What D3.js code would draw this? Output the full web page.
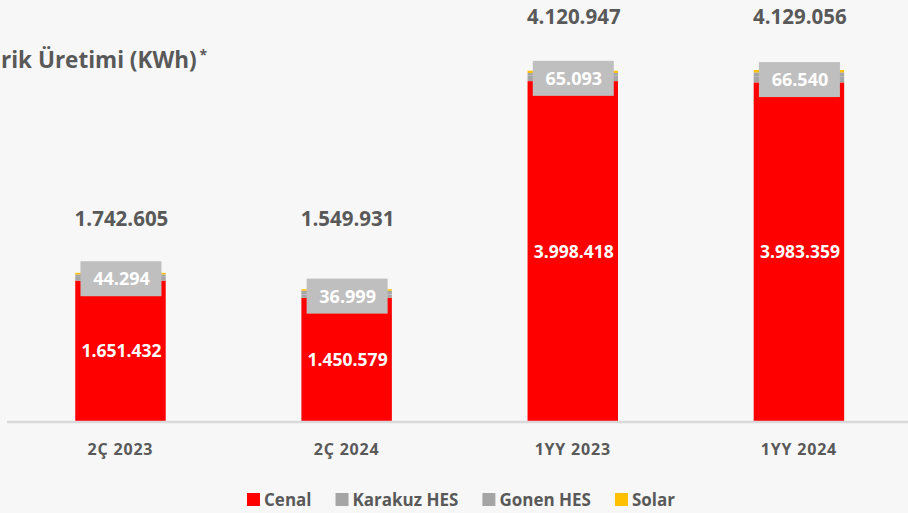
<!DOCTYPE html>
<html>
<head>
<meta charset="utf-8">
<script src="https://cdn.jsdelivr.net/npm/d3@7"></script>
<style>
  html, body { margin: 0; padding: 0; background: #f7f7f7; }
  svg { display: block; font-family: "Open Sans", "DejaVu Sans", sans-serif; }
</style>
</head>
<body>
<svg id="chart" width="908" height="513"></svg>
<script>
// ---- data ----
const categories = ["2Ç 2023", "2Ç 2024", "1YY 2023", "1YY 2024"];
const periodGroup = ["2Ç", "2Ç", "1YY", "1YY"];
const seriesNames = ["Cenal", "Karakuz HES", "Gonen HES", "Solar"];
const cenal   = [1651432, 1450579, 3998418, 3983359];
const karakuz = [44294, 36999, 65093, 66540];
const gonen   = [28879, 45000, 30436, 51157];   // estimated (unlabeled)
const solar   = [18000, 17353, 27000, 28000];   // estimated (unlabeled)
const colors  = ["#ff0000", "#a5a5a5", "#a5a5a5", "#ffc000"];
const titleText = "rik Üretimi (KWh)";

const table = categories.map((c, i) => ({
  cat: c, "Cenal": cenal[i], "Karakuz HES": karakuz[i], "Gonen HES": gonen[i], "Solar": solar[i]
}));

const fmt = d3.formatLocale({decimal: ",", thousands: ".", grouping: [3], currency: ["", ""]}).format(",d");

const svg = d3.select("#chart");
const baseY = 421;

const x = d3.scaleBand().domain(categories).range([7.4, 912]).paddingInner(0.6).paddingOuter(0.3);
const y = d3.scaleLinear().domain([0, 4129056]).range([baseY, 70]);
const color = d3.scaleOrdinal().domain(seriesNames).range(colors);

const stack = d3.stack().keys(seriesNames)(table);

// bars
const g = svg.append("g");
stack.forEach(layer => {
  g.selectAll(null).data(layer).enter().append("rect")
    .attr("x", d => x(d.data.cat))
    .attr("width", x.bandwidth())
    .attr("y", d => y(d[1]))
    .attr("height", d => y(d[0]) - y(d[1]))
    .attr("fill", color(layer.key));
});

// axis line
svg.append("line").attr("x1", 7).attr("x2", 908).attr("y1", baseY + 1).attr("y2", baseY + 1)
  .attr("stroke", "#d9d9d9").attr("stroke-width", 2.5);

// category labels
svg.selectAll(".cat").data(categories).enter().append("text")
  .attr("x", d => x(d) + x.bandwidth() / 2)
  .attr("y", 454.5)
  .attr("text-anchor", "middle")
  .attr("font-size", 16).attr("font-weight", 700).attr("fill", "#595959")
  .attr("letter-spacing", 0.8)
  .text(d => d);

// Cenal labels (white, inside red)
const cenalLayer = stack[0];
svg.selectAll(".cl").data(cenalLayer).enter().append("text")
  .attr("x", d => x(d.data.cat) + x.bandwidth() / 2 + 1)
  .attr("y", d => (y(d[0]) + y(d[1])) / 2 + 6.5)
  .attr("text-anchor", "middle")
  .attr("font-size", 17.5).attr("font-weight", 700).attr("fill", "#ffffff")
  .text(d => fmt(d[1] - d[0]));

// Karakuz labels in gray boxes
const kLayer = stack[1];
const boxW = 81, boxH = 35;
const kg = svg.selectAll(".kl").data(kLayer).enter().append("g")
  .attr("transform", d => `translate(${x(d.data.cat) + x.bandwidth() / 2},${(y(d[0]) + y(d[1])) / 2})`);
kg.append("rect").attr("x", -boxW / 2 + 0.5).attr("y", -boxH / 2).attr("width", boxW).attr("height", boxH)
  .attr("fill", "#bfbfbf");
kg.append("text").attr("x", 1).attr("y", 6.5).attr("text-anchor", "middle")
  .attr("font-size", 18).attr("font-weight", 700).attr("fill", "#ffffff")
  .text(d => fmt(d[1] - d[0]));

// totals (placed at a common height per period group)
const totals = table.map(r => seriesNames.reduce((s, k) => s + r[k], 0));
const groupMax = {};
totals.forEach((t, i) => { groupMax[periodGroup[i]] = Math.max(groupMax[periodGroup[i]] || 0, t); });
svg.selectAll(".tot").data(categories).enter().append("text")
  .attr("x", d => x(d) + x.bandwidth() / 2 + 1)
  .attr("y", (d, i) => y(groupMax[periodGroup[i]]) - 46.5)
  .attr("text-anchor", "middle")
  .attr("font-size", 20.5).attr("font-weight", 700).attr("fill", "#595959")
  .text((d, i) => fmt(totals[i]));

// title (as visible in the reference)
const title = svg.append("text").attr("x", 1).attr("y", 68)
  .attr("font-size", 22.5).attr("font-weight", 700).attr("fill", "#595959")
  .text(titleText);
const tw = title.node().getComputedTextLength();
svg.append("text").attr("x", 1 + tw + 3).attr("y", 60)
  .attr("font-size", 14).attr("font-weight", 700).attr("fill", "#595959")
  .text("*");

// legend
const leg = svg.append("g");
let lx = 247;
seriesNames.forEach((name, i) => {
  leg.append("rect").attr("x", lx).attr("y", 493).attr("width", 13).attr("height", 13).attr("fill", colors[i]);
  const t = leg.append("text").attr("x", lx + 17).attr("y", 506)
    .attr("font-size", 17).attr("font-weight", 700).attr("fill", "#595959").text(name);
  lx += 17 + t.node().getComputedTextLength() + 24;
});
</script>
</body>
</html>
